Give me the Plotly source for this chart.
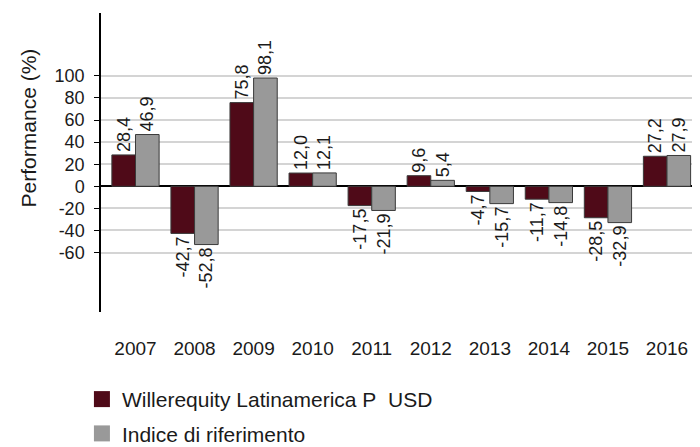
import plotly.graph_objects as go

years = ["2007", "2008", "2009", "2010", "2011", "2012", "2013", "2014", "2015", "2016"]
fund = [28.4, -42.7, 75.8, 12.0, -17.5, 9.6, -4.7, -11.7, -28.5, 27.2]
index_ref = [46.9, -52.8, 98.1, 12.1, -21.9, 5.4, -15.7, -14.8, -32.9, 27.9]
y_ticks = [-60, -40, -20, 0, 20, 40, 60, 80, 100]
y_tick_labels = ["-60", "-40", "-20", "0", "20", "40", "60", "80", "100"]
series_names = ["Willerequity Latinamerica P\u00a0\u00a0USD", "Indice di riferimento"]

MAROON = "#4F0A18"
GRAY = "#999999"
FONT = "Liberation Sans, Arial, sans-serif"


def fmt(v):
    return f"{v:.1f}".replace(".", ",")


fig = go.Figure()
for vals, col in [(fund, MAROON), (index_ref, GRAY)]:
    fig.add_trace(go.Bar(
        x=years, y=vals, marker=dict(color=col, line=dict(color="#3a3a3a", width=1)),
        text=[fmt(v) for v in vals], textposition="outside", textangle=-90,
        textfont=dict(size=18, color="#1a1a1a", family=FONT),
        constraintext="none", cliponaxis=False, showlegend=False,
    ))

for name, col in zip(series_names, [MAROON, GRAY]):
    fig.add_trace(go.Scatter(
        x=[None], y=[None], mode="markers", name=name,
        marker=dict(symbol="square", size=22, color=col), legendgroup=name,
    ))

fig.update_layout(
    width=692, height=439,
    margin=dict(l=93, r=3, t=5, b=135, autoexpand=False),
    paper_bgcolor="white", plot_bgcolor="white",
    font=dict(family=FONT, color="#1a1a1a"),
    barmode="group", bargap=0.2, bargroupgap=0,
    legend=dict(
        x=-0.032, y=0.155, xanchor="left", yanchor="top", yref="container",
        font=dict(size=21, family=FONT, color="#1a1a1a"),
        tracegroupgap=4, traceorder="grouped", bgcolor="rgba(0,0,0,0)",
    ),
    xaxis=dict(
        type="category", range=[-0.584, 9.508], showgrid=False, showline=False,
        ticks="", tickfont=dict(size=19, family=FONT), ticklabelstandoff=23,
        zeroline=False,
    ),
    yaxis=dict(
        range=[-113.9, 157], tickvals=y_ticks, ticktext=y_tick_labels,
        tickfont=dict(size=18, family=FONT), showgrid=True, gridcolor="#d4d4d4",
        gridwidth=1.5, zeroline=True, zerolinecolor="#000000", zerolinewidth=1.5,
        showline=True, linecolor="#000000", linewidth=1.5,
        ticks="outside", ticklen=5, tickcolor="#000000", ticklabelstandoff=6,
    ),
    annotations=[dict(
        text="Performance (%)", textangle=-90, xref="paper", yref="paper",
        x=-0.122, y=0.615, xanchor="center", yanchor="middle", showarrow=False,
        font=dict(size=21, family=FONT, color="#1a1a1a"),
    )],
)

fig.write_html("out.html")
